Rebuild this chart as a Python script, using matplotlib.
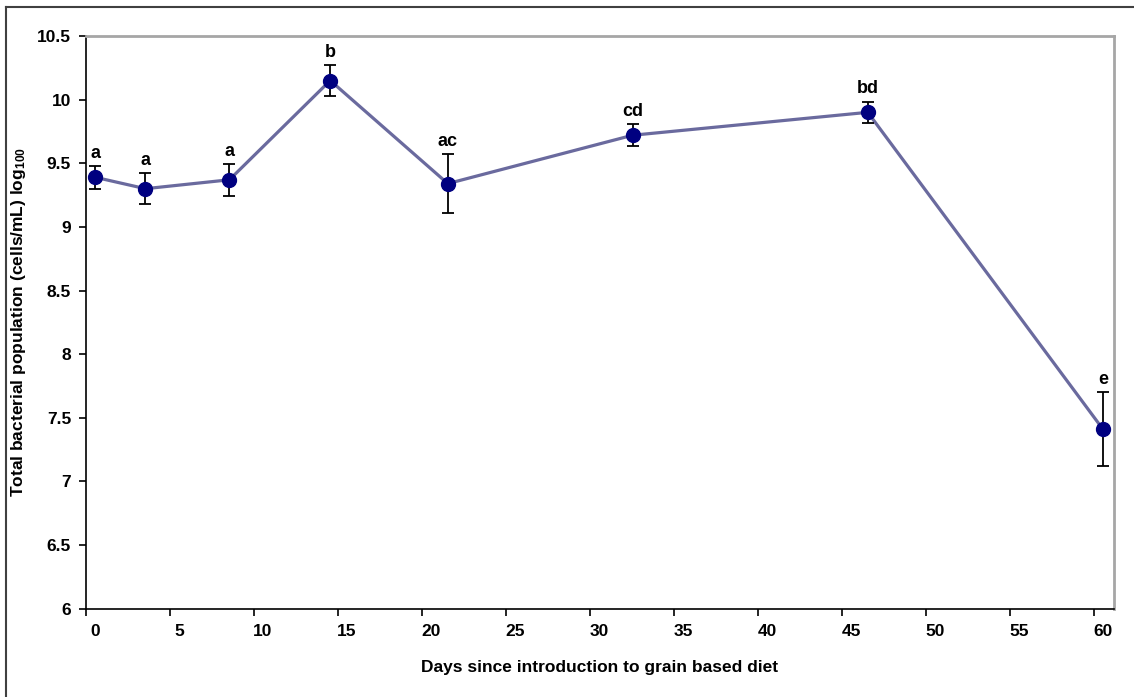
import numpy as np
import matplotlib.pyplot as plt
from matplotlib.lines import Line2D
from matplotlib.ticker import FixedLocator

plt.rcParams['font.family'] = ['Liberation Sans', 'DejaVu Sans']
plt.rcParams['font.weight'] = 'bold'
plt.rcParams['mathtext.fontset'] = 'custom'
plt.rcParams['mathtext.rm'] = 'Liberation Sans:bold'
plt.rcParams['mathtext.it'] = 'Liberation Sans:bold'

# data
days = [0, 3, 8, 14, 21, 32, 46, 60]
population = [9.39, 9.30, 9.37, 10.15, 9.34, 9.72, 9.90, 7.41]
errors = [0.09, 0.12, 0.125, 0.12, 0.23, 0.085, 0.085, 0.29]
letters = ['a', 'a', 'a', 'b', 'ac', 'cd', 'bd', 'e']
x_ticks = list(range(0, 61, 5))
y_ticks = [6, 6.5, 7, 7.5, 8, 8.5, 9, 9.5, 10, 10.5]
y_labels = ['6', '6.5', '7', '7.5', '8', '8.5', '9', '9.5', '10', '10.5']

fig = plt.figure(figsize=(11.34, 6.97), dpi=100)
ax = fig.add_axes([0.0761, 0.1267, 0.906, 0.8217])

ax.plot(days, population, color='#6a6a9e', lw=2.3, zorder=2)
ax.errorbar(days, population, yerr=errors, fmt='none', ecolor='black',
            elinewidth=1.3, capsize=4, capthick=1.3, zorder=3)
ax.plot(days, population, 'o', color='#000080', ms=10, zorder=4)

for x, y, e, t in zip(days, population, errors, letters):
    ax.annotate(t, (x, y + e), xytext=(0, 3), textcoords='offset points',
                ha='center', va='bottom', fontsize=13, fontweight='bold')

# Excel-style: tick marks sit half a unit left of the labels
shift = 0.52
ax.set_xlim(-shift, 60.64)
ax.set_ylim(6, 10.5)
ax.set_xticks(x_ticks)
ax.set_xticklabels([str(v) for v in x_ticks])
ax.tick_params(axis='x', which='major', length=0, pad=11)
ax.xaxis.set_minor_locator(FixedLocator(np.array(x_ticks) - shift))
ax.tick_params(axis='x', which='minor', length=5, width=1.2, color='black')
ax.set_yticks(y_ticks)
ax.set_yticklabels(y_labels)
ax.tick_params(axis='y', length=5, width=1.2, pad=6)
ax.tick_params(labelsize=12.5)

for s in ['left', 'bottom']:
    ax.spines[s].set_color('black')
    ax.spines[s].set_linewidth(1.2)
for s in ['top', 'right']:
    ax.spines[s].set_color('#a6a6a6')
    ax.spines[s].set_linewidth(2)

ax.set_xlabel('Days since introduction to grain based diet', fontsize=12.5,
              fontweight='bold', labelpad=15)
ax.set_ylabel('Total bacterial population (cells/mL) log$_{100}$', fontsize=12.5,
              fontweight='bold')
ax.yaxis.set_label_coords(-0.057, 0.5)

# outer frame (only top and left edges visible)
fig.add_artist(Line2D([6 / 1134, 1], [1 - 7 / 697, 1 - 7 / 697],
                      color='#404040', lw=1.5, transform=fig.transFigure))
fig.add_artist(Line2D([6 / 1134, 6 / 1134], [0, 1 - 7 / 697],
                      color='#404040', lw=1.5, transform=fig.transFigure))

fig.savefig('out.png', dpi=100)
